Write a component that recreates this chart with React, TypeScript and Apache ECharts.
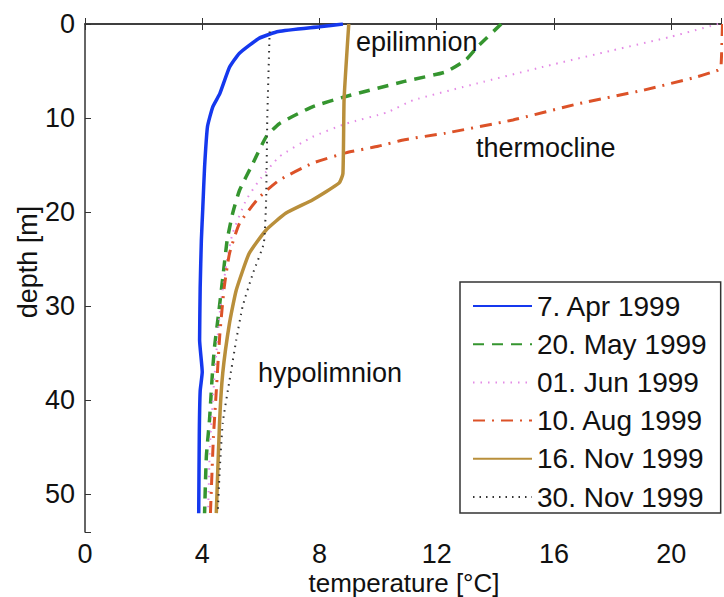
import React, { useEffect, useRef } from "react";
import * as echarts from "echarts";

// Temperature [°C] and depth [m] readings per profile
const aprTemp = [8.8, 8.0, 6.6, 5.95, 5.27, 4.93, 4.6, 4.36, 4.18, 4.08, 4.02, 3.97, 3.93, 3.91, 4.0, 3.93, 3.9, 3.88];
const aprDepth = [0, 0.3, 0.8, 1.5, 3.1, 4.6, 7.4, 8.8, 10.9, 15.2, 19.5, 23, 28, 33.6, 37, 39, 43.5, 52];

const mayTemp = [14.2, 13.4, 13.0, 12.3, 10.9, 8.9, 7.76, 6.63, 6.18, 5.73, 5.27, 5.04, 4.85, 4.7, 4.55, 4.42, 4.35, 4.25, 4.14, 4.08];
const mayDepth = [0, 2.4, 3.8, 5.1, 6.1, 7.7, 8.8, 10.6, 12.0, 14.8, 17.7, 20.1, 23, 27, 31, 34.3, 37, 42, 46, 52];

const junTemp = [21.6, 20.0, 18.0, 15.7, 13.4, 11.2, 10.3, 8.9, 7.76, 6.63, 5.95, 5.5, 5.04, 4.85, 4.62, 4.48, 4.36, 4.26, 4.2];
const junDepth = [0, 1.35, 2.8, 4.5, 6.3, 8.1, 9.4, 10.6, 12.0, 14.1, 16.6, 18.7, 22.2, 25, 30, 35, 40, 45, 52];

const augTemp = [21.75, 21.7, 21.6, 20.9, 19.1, 16.8, 14.6, 12.3, 10.9, 10.0, 8.9, 7.76, 6.63, 5.95, 5.27, 4.93, 4.75, 4.6, 4.48, 4.38, 4.28];
const augDepth = [0, 4.5, 4.9, 5.6, 7.0, 8.5, 10.2, 11.6, 12.3, 13.0, 13.7, 14.8, 16.6, 18.4, 21.2, 24.4, 28, 33, 39, 44, 52];

const nov16Temp = [9.0, 8.84, 8.8, 8.67, 7.76, 6.86, 6.18, 5.6, 5.16, 4.93, 4.7, 4.59, 4.48];
const nov16Depth = [0, 8, 15.9, 16.9, 18.7, 20.1, 21.9, 24.4, 28.3, 31.8, 37.1, 42.4, 52];

const nov30Temp = [6.3, 6.22, 6.18, 6.1, 5.73, 5.38, 5.16, 4.93, 4.7, 4.59, 4.53];
const nov30Depth = [0.8, 10, 18.7, 23.3, 26.5, 30, 33.6, 37.9, 42.4, 47.8, 52];

const seriesNames = ["7. Apr 1999", "20. May 1999", "01. Jun 1999", "10. Aug 1999", "16. Nov 1999", "30. Nov 1999"];
const xTicks = [0, 4, 8, 12, 16, 20];
const yTicks = [0, 10, 20, 30, 40, 50];

const FONT = "'Liberation Sans', Arial, Helvetica, sans-serif";

const pairs = (t: number[], d: number[]) => t.map((v, i) => [v, d[i]]);

export default function App() {
  const ref = useRef<HTMLDivElement>(null);
  useEffect(() => {
    if (!ref.current) return;
    const chart = echarts.init(ref.current, undefined, { renderer: "svg" });
    const styles = [
      { color: "#1538ee", width: 3.5, type: "solid" as any },
      { color: "#35952f", width: 3.5, type: [11, 8] },
      { color: "#e48be6", width: 2, type: [1.5, 6] },
      { color: "#dc5228", width: 3, type: [12, 7, 2, 7] },
      { color: "#b98f3b", width: 3.5, type: "solid" as any },
      { color: "#333333", width: 2, type: [1.5, 5] },
    ];
    const data = [
      pairs(aprTemp, aprDepth),
      pairs(mayTemp, mayDepth),
      pairs(junTemp, junDepth),
      pairs(augTemp, augDepth),
      pairs(nov16Temp, nov16Depth),
      pairs(nov30Temp, nov30Depth),
    ];
    const axisLine = { show: true, lineStyle: { color: "#333", width: 1.5 } };
    chart.setOption({
      animation: false,
      backgroundColor: "#fff",
      grid: { left: 85, top: 24, right: 0, bottom: 65, containLabel: false },
      xAxis: [
        {
          type: "value",
          min: 0,
          max: 21.7,
          interval: 4,
          axisLine,
          axisTick: { inside: true, length: 6, lineStyle: { color: "#333" } },
          splitLine: { show: false },
          axisLabel: {
            margin: 11,
            fontSize: 27,
            lineHeight: 22,
            color: "#111",
            fontFamily: FONT,
            formatter: (v: number) => (xTicks.includes(v) ? String(v) : ""),
          },
        },
        {
          type: "value",
          position: "top",
          min: 0,
          max: 21.7,
          interval: 4,
          axisLine,
          axisTick: { inside: true, length: 6, lineStyle: { color: "#333" } },
          splitLine: { show: false },
          axisLabel: { show: false },
        },
      ],
      yAxis: {
        type: "value",
        inverse: true,
        min: 0,
        max: 54,
        interval: 10,
        axisLine,
        axisTick: { inside: true, length: 6, lineStyle: { color: "#333" } },
        splitLine: { show: false },
        axisLabel: {
          margin: 10,
          fontSize: 27,
          color: "#111",
          fontFamily: FONT,
          formatter: (v: number) => (yTicks.includes(v) ? String(v) : ""),
        },
      },
      legend: {
        orient: "vertical",
        left: 460,
        top: 282,
        padding: [10, 14, 2, 12],
        itemWidth: 59,
        itemHeight: 14,
        itemGap: 10.2,
        borderColor: "#333",
        borderWidth: 1.5,
        backgroundColor: "#fff",
        itemStyle: { opacity: 0, borderWidth: 0 },
        textStyle: { fontSize: 28, lineHeight: 26, color: "#111", fontFamily: FONT },
        data: seriesNames,
      },
      series: data.map((d, i) => ({
        type: "line",
        name: seriesNames[i],
        data: d,
        symbol: "none",
        showSymbol: false,
        smooth: 0.15,
        clip: true,
        lineStyle: { color: styles[i].color, width: styles[i].width, type: styles[i].type, cap: "butt" },
        itemStyle: { color: styles[i].color },
        z: 2 + i,
      })),
      graphic: [
        {
          type: "text",
          left: 356,
          top: 28,
          style: { text: "epilimnion", fontSize: 27, fontFamily: FONT, fill: "#111" },
          z: 100,
        },
        {
          type: "text",
          left: 476,
          top: 134,
          style: { text: "thermocline", fontSize: 27, fontFamily: FONT, fill: "#111" },
          z: 100,
        },
        {
          type: "text",
          left: 258,
          top: 359,
          style: { text: "hypolimnion", fontSize: 27, fontFamily: FONT, fill: "#111" },
          z: 100,
        },
        {
          type: "text",
          x: 28,
          y: 262,
          rotation: Math.PI / 2,
          style: {
            text: "depth [m]",
            fontSize: 27,
            fontFamily: FONT,
            fill: "#111",
            align: "center",
            verticalAlign: "middle",
          },
        },
        {
          type: "text",
          x: 404,
          y: 583,
          style: {
            text: "temperature [°C]",
            fontSize: 26,
            lineHeight: 22,
            fontFamily: FONT,
            fill: "#111",
            align: "center",
            verticalAlign: "middle",
          },
        },
      ],
    });
    return () => chart.dispose();
  }, []);
  return (
    <div
      ref={ref}
      style={{ position: "fixed", left: 0, top: 0, width: 724, height: 597, background: "#fff" }}
    />
  );
}
